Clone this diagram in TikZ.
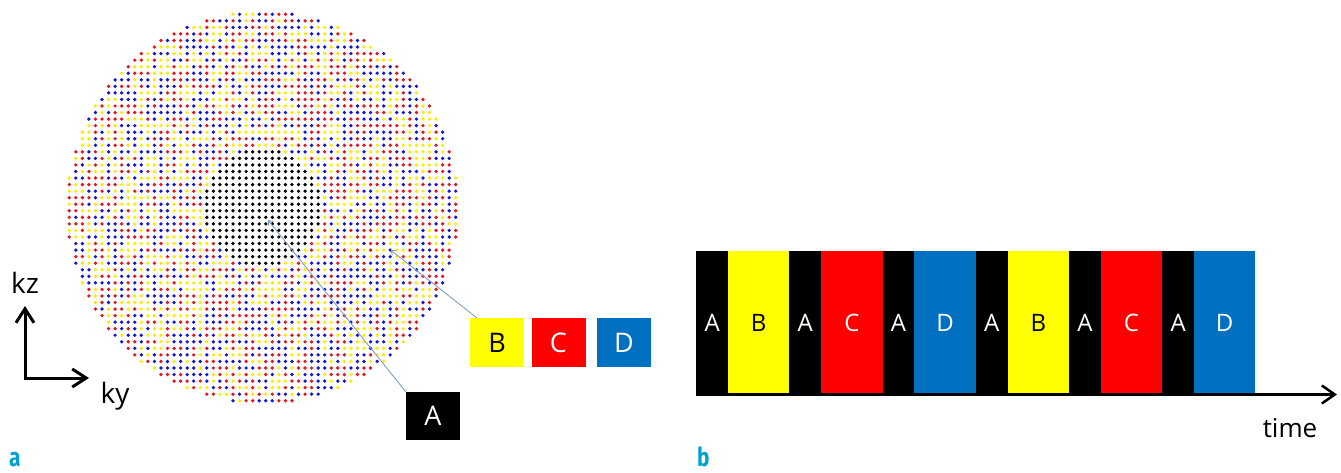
\documentclass[tikz,border=0pt]{standalone}
\usepackage{fontspec}
\setmainfont{Open Sans}
\newfontfamily\labfont{Fira Sans}
\usetikzlibrary{arrows.meta,calc}
\definecolor{dotY}{RGB}{255,235,0}
\definecolor{dotR}{RGB}{230,20,30}
\definecolor{dotB}{RGB}{20,20,215}
\definecolor{boxYel}{RGB}{255,255,0}
\definecolor{boxRed}{RGB}{255,0,0}
\definecolor{boxBlu}{RGB}{0,112,192}
\definecolor{connCol}{RGB}{128,158,198}
\definecolor{labCol}{RGB}{0,160,210}
\begin{document}
\begin{tikzpicture}[x=1pt,y=-1pt,
  lbox/.style={rectangle, inner sep=0pt, minimum width=54pt, minimum height=49pt,
    font=\fontsize{27}{32}\selectfont},
  bar/.style={rectangle, inner sep=0pt, anchor=north west, minimum height=143.5pt,
    font=\fontsize{24}{28}\selectfont},
  conn/.style={draw=connCol, line width=0.9pt, -{Straight Barb[length=4pt,width=6pt]}},
  axarrow/.style={draw=black, line width=3pt, line join=miter},
  tline/.style={draw=black, line width=2.5pt, -{Straight Barb[length=13pt,width=18pt]}},
  axlab/.style={font=\fontsize{28}{32}\selectfont, inner sep=0pt},
  panlab/.style={font=\labfont\bfseries\fontsize{26}{30}\selectfont, text=labCol, inner sep=0pt, anchor=base west}]
\useasboundingbox (0,0) rectangle (1341,472);
\fill[white] (0,0) rectangle (1341,472);

% ---------- panel a: k-space dots ----------
\pgfmathsetseed{12345}
\foreach \a in {0,...,59}{
  \foreach \b in {0,...,59}{
    \pgfmathsetmacro{\ii}{\a-29.5}
    \pgfmathsetmacro{\jj}{\b-29.5}
    \pgfmathsetmacro{\dd}{\ii*\ii+\jj*\jj}
    \ifdim\dd pt<900.1pt
      \ifdim\dd pt<80pt
        \def\dotcol{black}%
      \else
        \pgfmathrandominteger{\rr}{1}{3}%
        \ifcase\rr\or\def\dotcol{dotY}\or\def\dotcol{dotR}\or\def\dotcol{dotB}\fi
      \fi
      \fill[\dotcol] (262.5+6.55*\ii, 207.5+6.55*\jj) circle[radius=1.85pt];
    \fi
  }
}

% axes kz / ky
\coordinate (org) at (25,378);
\coordinate (kzend) at (25,306);
\coordinate (kyend) at (89,378);
\draw[axarrow, {Straight Barb[length=14pt,width=18pt]}-{Straight Barb[length=14pt,width=18pt]}] (kzend) -- (org) -- (kyend);
\node[axlab] (kz) at (25,283) {kz};
\node[axlab] (ky) at (115,396) {ky};

% legend boxes
\node[lbox, fill=boxYel, text=black] (boxB) at (497,342.5) {B};
\node[lbox, fill=boxRed, text=white] (boxC) at (558.5,342.5) {C};
\node[lbox, fill=boxBlu, text=white] (boxD) at (624,342.5) {D};
\node[lbox, fill=black, text=white, minimum height=48pt] (boxA) at (433,416) {A};

\coordinate (dotBpt) at (390.5,250);
\coordinate (dotApt) at (268,220);
\draw[conn] ($(boxB.north west)+(7,0)$) -- (dotBpt);
\draw[conn] (boxA.north west) -- (dotApt);

\node[panlab] (la) at (9,466) {\scalebox{0.8}[1]{a}};

% ---------- panel b: time line ----------
\node[bar, fill=black,  text=white, minimum width=31.8pt] (s1)  at (696.0,251) {A};
\node[bar, fill=boxYel, text=black, minimum width=61.4pt] (s2)  at (727.8,251) {B};
\node[bar, fill=black,  text=white, minimum width=31.8pt] (s3)  at (789.2,251) {A};
\node[bar, fill=boxRed, text=white, minimum width=61.4pt] (s4)  at (821.0,251) {C};
\node[bar, fill=black,  text=white, minimum width=31.8pt] (s5)  at (882.4,251) {A};
\node[bar, fill=boxBlu, text=white, minimum width=61.4pt] (s6)  at (914.2,251) {D};
\node[bar, fill=black,  text=white, minimum width=31.8pt] (s7)  at (975.6,251) {A};
\node[bar, fill=boxYel, text=black, minimum width=61.4pt] (s8)  at (1007.4,251) {B};
\node[bar, fill=black,  text=white, minimum width=31.8pt] (s9)  at (1068.8,251) {A};
\node[bar, fill=boxRed, text=white, minimum width=61.4pt] (s10) at (1100.6,251) {C};
\node[bar, fill=black,  text=white, minimum width=31.8pt] (s11) at (1162.0,251) {A};
\node[bar, fill=boxBlu, text=white, minimum width=61.4pt] (s12) at (1193.8,251) {D};

\coordinate (tstart) at (696,394.5);
\coordinate (tend) at (1337,394.5);
\draw[tline] (tstart) -- (tend);
\node[axlab, font=\fontsize{26}{30}\selectfont] (time) at (1290,428) {time};

\node[panlab] (lb) at (697,466) {\scalebox{0.8}[1]{b}};
\end{tikzpicture}
\end{document}
